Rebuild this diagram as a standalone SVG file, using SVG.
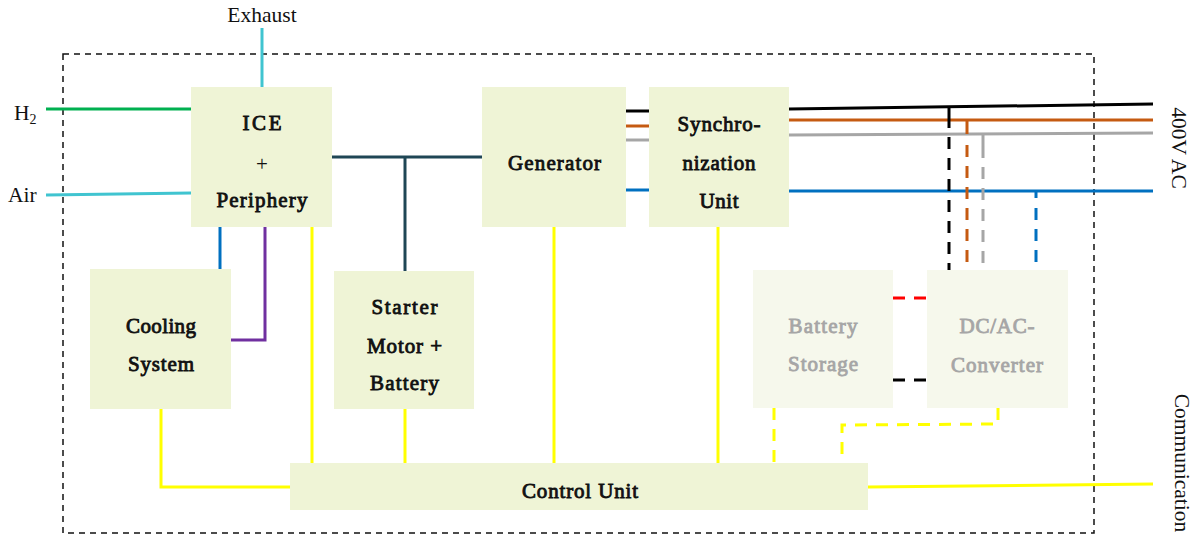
<svg xmlns="http://www.w3.org/2000/svg" width="1200" height="536" viewBox="0 0 1200 536">
<style>
.box{fill:#EFF4D6}
.boxl{fill:#F6F8EC}
.t{font-family:'Liberation Serif','Times New Roman',serif;font-size:21px;fill:#111;stroke:#111;stroke-width:0.85px;text-anchor:middle}
.tl{font-family:'Liberation Serif','Times New Roman',serif;font-size:21px;fill:#A6A6A6;stroke:#A6A6A6;stroke-width:0.85px;text-anchor:middle}
.lab{font-family:'Liberation Serif','Times New Roman',serif;font-size:21.5px;fill:#111}
.ln{fill:none;stroke-width:3}
.dash{fill:none;stroke-width:3;stroke-dasharray:12,9}
</style>
<rect x="63" y="54" width="1031" height="479" fill="none" stroke="#111" stroke-width="1.5" stroke-dasharray="6,5"/>
<g id="connectors">
  <line class="ln" x1="262" y1="28" x2="262" y2="87" stroke="#40C4D0"/>
  <line class="ln" x1="46" y1="109" x2="191" y2="109" stroke="#00B050"/>
  <line class="ln" x1="46" y1="195" x2="191" y2="193" stroke="#40C4D0"/>
  <polyline class="ln" points="332,157 482,157" stroke="#1F4655"/>
  <line class="ln" x1="405" y1="157" x2="405" y2="271" stroke="#1F4655"/>
  <line class="ln" x1="220" y1="227" x2="220" y2="269" stroke="#0070C0"/>
  <polyline class="ln" points="265,227 265,340 231,340" stroke="#7030A0"/>
  <line class="ln" x1="626" y1="111" x2="649" y2="111" stroke="#000"/>
  <line class="ln" x1="626" y1="126" x2="649" y2="126" stroke="#C55A11"/>
  <line class="ln" x1="626" y1="140" x2="649" y2="140" stroke="#A6A6A6"/>
  <line class="ln" x1="626" y1="190" x2="649" y2="190" stroke="#0070C0"/>
  <line class="ln" x1="789" y1="109" x2="1153" y2="104" stroke="#000"/>
  <line class="ln" x1="789" y1="120" x2="1153" y2="120" stroke="#C55A11"/>
  <line class="ln" x1="789" y1="135" x2="1153" y2="133" stroke="#A6A6A6"/>
  <line class="ln" x1="789" y1="191" x2="1153" y2="191" stroke="#0070C0"/>
  <polyline class="ln" points="949,108 949,116" stroke="#000"/>
  <line class="dash" x1="949" y1="116" x2="949" y2="270" stroke="#000" stroke-dasharray="14,9"/>
  <polyline class="ln" points="967,121 967,134" stroke="#C55A11"/>
  <line class="dash" x1="967" y1="145" x2="967" y2="262" stroke="#C55A11"/>
  <polyline class="ln" points="983,134 983,146" stroke="#A6A6A6"/>
  <line class="dash" x1="983" y1="146" x2="983" y2="270" stroke="#A6A6A6"/>
  <polyline class="ln" points="1036,191 1036,198" stroke="#0070C0"/>
  <line class="dash" x1="1036" y1="208" x2="1036" y2="270" stroke="#0070C0"/>
  <line class="dash" x1="893" y1="298" x2="927" y2="298" stroke="#FF0000" stroke-dasharray="14,8"/>
  <line class="dash" x1="893" y1="380" x2="927" y2="380" stroke="#000" stroke-dasharray="14,8"/>
  <line class="ln" x1="312" y1="227" x2="312" y2="463" stroke="#FFFF00"/>
  <line class="ln" x1="405" y1="409" x2="405" y2="463" stroke="#FFFF00"/>
  <line class="ln" x1="554" y1="227" x2="554" y2="463" stroke="#FFFF00"/>
  <line class="ln" x1="718" y1="227" x2="718" y2="463" stroke="#FFFF00"/>
  <polyline class="ln" points="161,409 161,487 291,487" stroke="#FFFF00"/>
  <line class="ln" x1="868" y1="487" x2="1153" y2="484" stroke="#FFFF00"/>
  <line class="dash" x1="774" y1="408" x2="774" y2="463" stroke="#FFFF00" stroke-dasharray="13,10"/>
  <polyline class="dash" points="998,408 998,424 842,425 842,463" stroke="#FFFF00" stroke-dasharray="17,9"/>
</g>
<g id="ice"><rect class="box" x="191" y="87" width="141" height="140"/>
<text class="t" x="262" y="130" textLength="39" lengthAdjust="spacing">ICE</text>
<text class="t" x="262" y="171" style="stroke-width:0">+</text>
<text class="t" x="262" y="207" textLength="91" lengthAdjust="spacing">Periphery</text></g>
<g id="generator"><rect class="box" x="482" y="87" width="144" height="140"/>
<text class="t" x="554.5" y="170" textLength="93" lengthAdjust="spacing">Generator</text></g>
<g id="sync"><rect class="box" x="649" y="87" width="140" height="140"/>
<text class="t" x="719" y="131" textLength="83" lengthAdjust="spacing">Synchro-</text>
<text class="t" x="719" y="170" textLength="73" lengthAdjust="spacing">nization</text>
<text class="t" x="719" y="208" textLength="39" lengthAdjust="spacing">Unit</text></g>
<g id="cooling"><rect class="box" x="90" y="269" width="141" height="140"/>
<text class="t" x="161" y="333" textLength="70" lengthAdjust="spacing">Cooling</text>
<text class="t" x="161" y="371" textLength="66" lengthAdjust="spacing">System</text></g>
<g id="starter"><rect class="box" x="334" y="271" width="140" height="138"/>
<text class="t" x="404.5" y="314" textLength="66" lengthAdjust="spacing">Starter</text>
<text class="t" x="404.5" y="353" textLength="75" lengthAdjust="spacing">Motor +</text>
<text class="t" x="404.5" y="390" textLength="69" lengthAdjust="spacing">Battery</text></g>
<g id="battery"><rect class="boxl" x="753" y="270" width="140" height="138"/>
<text class="tl" x="823" y="333" textLength="69" lengthAdjust="spacing">Battery</text>
<text class="tl" x="823" y="371" textLength="70" lengthAdjust="spacing">Storage</text></g>
<g id="dcac"><rect class="boxl" x="927" y="270" width="141" height="138"/>
<text class="tl" x="997" y="333" textLength="75" lengthAdjust="spacing">DC/AC-</text>
<text class="tl" x="997" y="372" textLength="92" lengthAdjust="spacing">Converter</text></g>
<g id="control"><rect class="box" x="290" y="463" width="578" height="47"/>
<text class="t" x="580" y="498" textLength="116" lengthAdjust="spacing">Control Unit</text></g>
<g id="labels">
<text class="lab" x="262" y="22" text-anchor="middle">Exhaust</text>
<text class="lab" x="14" y="120">H<tspan font-size="14" dy="4">2</tspan></text>
<text class="lab" x="8" y="202">Air</text>
<text class="lab" transform="translate(1172,148) rotate(90)" text-anchor="middle" font-size="22">400V AC</text>
<text class="lab" transform="translate(1175,463) rotate(90)" text-anchor="middle">Communication</text>
</g>
</svg>
